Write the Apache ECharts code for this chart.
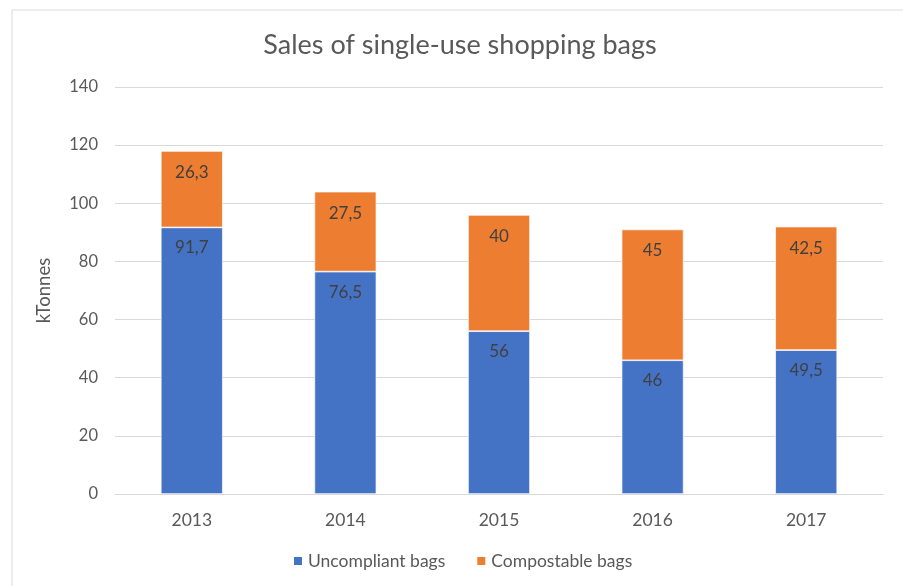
<!DOCTYPE html>
<html>
<head>
<meta charset="utf-8">
<script src="https://cdn.jsdelivr.net/npm/echarts@6/dist/echarts.min.js"></script>
<style>
  html, body { margin: 0; padding: 0; background: #fff; }
  #chart { width: 903px; height: 586px; }
</style>
</head>
<body>
<div id="chart"></div>
<script>
// Sales of single-use shopping bags, kTonnes per year
const years = ['2013', '2014', '2015', '2016', '2017'];
const uncompliant = [91.7, 76.5, 56, 46, 49.5];
const compostable = [26.3, 27.5, 40, 45, 42.5];

const FONT = 'Lato, "Open Sans", sans-serif';
const fmt = p => String(p.value).replace('.', ',');

const chart = echarts.init(document.getElementById('chart'), null, { renderer: 'canvas' });

chart.setOption({
  animation: false,
  backgroundColor: '#ffffff',
  textStyle: { fontFamily: FONT },
  graphic: [{
    type: 'rect',
    shape: { x: 12, y: 10, width: 1000, height: 1000 },
    style: { fill: 'none', stroke: '#d9d9d9', lineWidth: 1 },
    silent: true
  }],
  title: {
    text: 'Sales of single-use shopping bags',
    left: 455,
    textAlign: 'center',
    top: 27,
    textStyle: { fontFamily: FONT, fontSize: 27, fontWeight: 'normal', color: '#595959' }
  },
  legend: {
    bottom: 11,
    left: 287,
    itemWidth: 10,
    itemHeight: 10,
    itemGap: 30,
    icon: 'rect',
    textStyle: { fontFamily: FONT, fontSize: 17.5, color: '#595959' },
    data: ['Uncompliant bags', 'Compostable bags']
  },
  grid: { left: 115, right: 20, top: 87, bottom: 92 },
  xAxis: {
    type: 'category',
    data: years,
    axisLine: { lineStyle: { color: '#d9d9d9', width: 1 } },
    axisTick: { show: false },
    axisLabel: { fontFamily: FONT, fontSize: 17.5, color: '#595959', margin: 17 }
  },
  yAxis: {
    type: 'value',
    min: 0,
    max: 140,
    interval: 20,
    name: 'kTonnes',
    nameLocation: 'middle',
    nameGap: 61,
    nameRotate: 90,
    nameTextStyle: { fontFamily: FONT, fontSize: 18.5, color: '#595959' },
    axisLine: { show: false },
    axisTick: { show: false },
    axisLabel: { fontFamily: FONT, fontSize: 16.5, color: '#595959', margin: 17 },
    splitLine: { lineStyle: { color: '#d9d9d9', width: 1 } }
  },
  series: [
    {
      name: 'Uncompliant bags',
      type: 'bar',
      stack: 'total',
      barWidth: 62,
      data: uncompliant,
      itemStyle: { color: '#4472C4', borderColor: '#ffffff', borderWidth: 0.7 },
      label: {
        show: true,
        position: 'insideTop',
        distance: 12,
        formatter: fmt,
        fontFamily: FONT,
        fontSize: 17,
        color: '#404040'
      }
    },
    {
      name: 'Compostable bags',
      type: 'bar',
      stack: 'total',
      barWidth: 62,
      data: compostable,
      itemStyle: { color: '#ED7D31', borderColor: '#ffffff', borderWidth: 0.7 },
      label: {
        show: true,
        position: 'insideTop',
        distance: 13,
        formatter: fmt,
        fontFamily: FONT,
        fontSize: 17,
        color: '#404040'
      }
    }
  ]
});
</script>
</body>
</html>
